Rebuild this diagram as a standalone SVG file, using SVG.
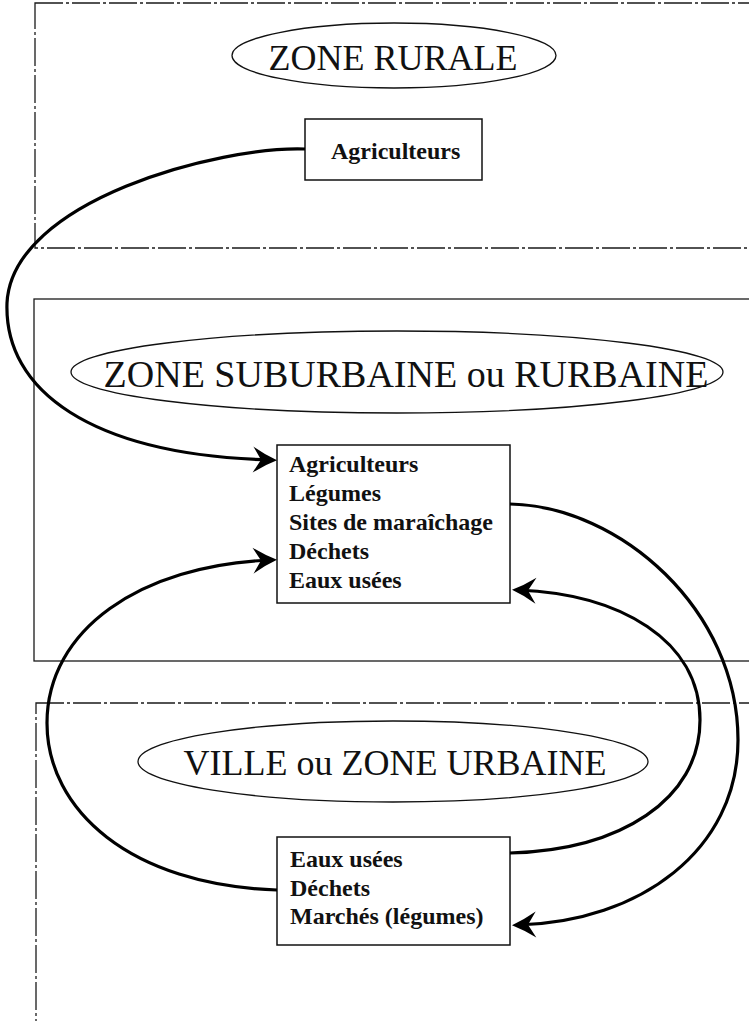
<svg xmlns="http://www.w3.org/2000/svg" width="749" height="1021" viewBox="0 0 749 1021">
<style>
.zone{fill:none;stroke:#1a1a1a;stroke-width:1.3}
.dash{stroke-dasharray:28 3 3 3}
.ell{fill:none;stroke:#111;stroke-width:1.3}
.title{font-family:"Liberation Serif","Times New Roman",serif;fill:#111;text-anchor:middle}
.box{fill:#fff;stroke:#111;stroke-width:1.5}
.lbl{font-family:"Liberation Serif","Times New Roman",serif;font-weight:bold;font-size:24px;fill:#111}
.con{fill:none;stroke:#000;stroke-width:3.2}
</style>
<defs>
<marker id="arr" viewBox="-25 -15 35 30" markerUnits="userSpaceOnUse" markerWidth="35" markerHeight="30" refX="0" refY="0" orient="auto">
<path d="M6,0 Q-6,-5 -18,-13 L-10,0 L-18,13 Q-6,5 6,0 Z" fill="#000"/>
</marker>
</defs>
<rect width="749" height="1021" fill="#fff"/>
<g id="zone-rurale">
<rect class="zone dash" x="35" y="3" width="730" height="245"/>
<ellipse class="ell" cx="394" cy="55.5" rx="162" ry="32.5"/>
<text class="title" x="393" y="70" font-size="36">ZONE RURALE</text>
</g>
<g id="zone-suburbaine">
<rect class="zone" x="34" y="299" width="730" height="362"/>
<ellipse class="ell" cx="397" cy="372" rx="326" ry="41"/>
<text class="title" x="406" y="387" font-size="38">ZONE SUBURBAINE ou RURBAINE</text>
</g>
<g id="zone-urbaine">
<rect class="zone dash" x="36" y="703" width="730" height="330"/>
<ellipse class="ell" cx="393" cy="761.5" rx="255" ry="40.5"/>
<text class="title" x="395" y="775" font-size="36">VILLE ou ZONE URBAINE</text>
</g>
<g id="box-rural">
<rect class="box" x="305" y="119" width="177" height="61"/>
<text class="lbl" x="331" y="159">Agriculteurs</text>
</g>
<g id="box-suburbain">
<rect class="box" x="277" y="445" width="233" height="158"/>
<text class="lbl" x="289" y="472">Agriculteurs</text>
<text class="lbl" x="289" y="501">Légumes</text>
<text class="lbl" x="289" y="530">Sites de maraîchage</text>
<text class="lbl" x="289" y="559">Déchets</text>
<text class="lbl" x="289" y="588">Eaux usées</text>
</g>
<g id="box-urbain">
<rect class="box" x="277" y="837" width="233" height="108"/>
<text class="lbl" x="290" y="867">Eaux usées</text>
<text class="lbl" x="290" y="896">Déchets</text>
<text class="lbl" x="290" y="924">Marchés (légumes)</text>
</g>
<g id="connectors">
<path class="con" d="M305,149 C220,146 12,200 7,303 C4,390 90,455 271,460" marker-end="url(#arr)"/>
<path class="con" d="M510,504 C620,506 738,610 738,740 C738,850 640,922 518,925" marker-end="url(#arr)"/>
<path class="con" d="M510,853 C620,850 700,800 700,720 C700,640 620,594 518,590" marker-end="url(#arr)"/>
<path class="con" d="M277,890 C130,885 47,810 47,723 C47,630 140,565 271,560" marker-end="url(#arr)"/>
</g>
</svg>
